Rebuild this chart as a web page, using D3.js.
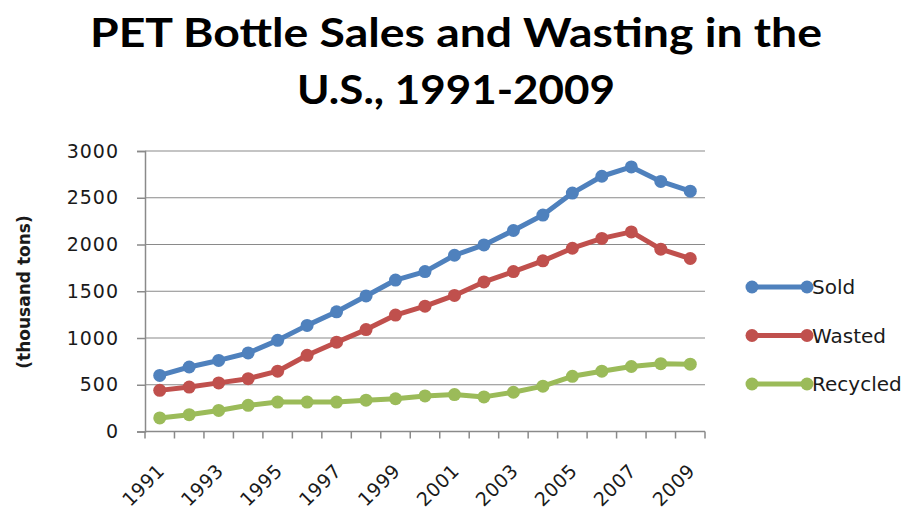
<!DOCTYPE html>
<html>
<head>
<meta charset="utf-8">
<script src="https://cdn.jsdelivr.net/npm/d3@7"></script>
<style>
  body { margin: 0; background: #fff; }
  text { font-family: "DejaVu Sans", sans-serif; fill: #1a1a1a; }
  .title { font-family: Lato, "Open Sans", sans-serif; font-weight: bold; font-size: 41px; fill: #000; }
  .tick-label { font-size: 19px; letter-spacing: 1px; }
  .x-label { font-size: 19px; letter-spacing: 0.5px; }
  .axis-title { font-size: 17px; font-weight: bold; }
  .legend-label { font-size: 20px; }
</style>
</head>
<body>
<div class="chart"></div>
<script>
// values (thousand tons)
var years = d3.range(1991, 2010).map(String);
var sold = [600, 690, 760, 840, 975, 1135, 1280, 1450, 1620, 1710, 1885, 1995, 2150, 2315, 2550, 2730, 2830, 2675, 2570];
var wasted = [440, 475, 520, 565, 645, 815, 955, 1090, 1245, 1340, 1455, 1600, 1710, 1825, 1960, 2065, 2135, 1950, 1850];
var recycled = [145, 180, 225, 280, 315, 315, 315, 335, 350, 380, 395, 370, 420, 485, 590, 645, 695, 725, 720];
var seriesNames = ["Sold", "Wasted", "Recycled"];
var seriesColors = ["#4F81BD", "#C0504D", "#9BBB59"];
var yTicks = [0, 500, 1000, 1500, 2000, 2500, 3000];
var xLabels = ["1991", "1993", "1995", "1997", "1999", "2001", "2003", "2005", "2007", "2009"];

var svgWidth = 917;
var svgHeight = 515;

var plot = { left: 145, right: 705, top: 151, bottom: 431.5 };

var svg = d3.select(".chart")
  .append("svg")
  .attr("width", svgWidth)
  .attr("height", svgHeight);

// title, two lines stretched to the reference widths
svg.append("text")
  .attr("class", "title")
  .attr("text-anchor", "middle")
  .attr("x", 456).attr("y", 47)
  .attr("textLength", 732)
  .attr("lengthAdjust", "spacingAndGlyphs")
  .text("PET Bottle Sales and Wasting in the");
svg.append("text")
  .attr("class", "title")
  .attr("text-anchor", "middle")
  .attr("x", 456).attr("y", 104)
  .attr("textLength", 318)
  .attr("lengthAdjust", "spacingAndGlyphs")
  .text("U.S., 1991-2009");

var xScale = d3.scaleBand()
  .domain(years)
  .range([plot.left, plot.right]);

var yScale = d3.scaleLinear()
  .domain([0, 3000])
  .range([plot.bottom, plot.top]);

// gridlines
svg.append("g")
  .selectAll("line")
  .data(yTicks.slice(1))
  .enter()
  .append("line")
  .attr("x1", plot.left)
  .attr("x2", plot.right)
  .attr("y1", d => yScale(d))
  .attr("y2", d => yScale(d))
  .attr("stroke", "#8a8a8a")
  .attr("stroke-width", 1.2);

// y axis
var leftAxis = d3.axisLeft(yScale)
  .tickValues(yTicks)
  .tickFormat(d3.format("d"))
  .tickSize(8)
  .tickPadding(18);
var yAxis = svg.append("g")
  .attr("transform", `translate(${plot.left}, 0)`)
  .call(leftAxis);
yAxis.select(".domain").attr("stroke", "#8a8a8a").attr("stroke-width", 1.5);
yAxis.selectAll(".tick line").attr("stroke", "#8a8a8a").attr("stroke-width", 1.5);
yAxis.selectAll(".tick text").attr("class", "tick-label").attr("font-family", null).attr("font-size", null).attr("fill", null);

// x axis line + boundary ticks
var xAxis = svg.append("g");
xAxis.append("line")
  .attr("x1", plot.left)
  .attr("x2", plot.right)
  .attr("y1", yScale(0))
  .attr("y2", yScale(0))
  .attr("stroke", "#8a8a8a")
  .attr("stroke-width", 1.5);
xAxis.selectAll(".xtick")
  .data(years.concat(["end"]))
  .enter()
  .append("line")
  .attr("class", "xtick")
  .attr("x1", d => d === "end" ? xScale.range()[1] : xScale(d))
  .attr("x2", d => d === "end" ? xScale.range()[1] : xScale(d))
  .attr("y1", yScale(0))
  .attr("y2", yScale(0) + 7)
  .attr("stroke", "#8a8a8a")
  .attr("stroke-width", 1.5);

xAxis.selectAll(".xlabel")
  .data(xLabels)
  .enter()
  .append("text")
  .attr("class", "x-label")
  .attr("text-anchor", "end")
  .attr("transform", d => `translate(${xScale(d) + xScale.bandwidth() / 2 + 6}, 472) rotate(-45)`)
  .text(d => d);

// y axis title
svg.append("text")
  .attr("class", "axis-title")
  .attr("text-anchor", "middle")
  .attr("transform", "translate(30, 292) rotate(-90)")
  .text("(thousand tons)");

// lines
var allSeries = [sold, wasted, recycled];
var line = d3.line()
  .x((d, i) => xScale(years[i]) + xScale.bandwidth() / 2)
  .y(d => yScale(d));

allSeries.forEach(function(values, k) {
  var g = svg.append("g");
  g.append("path")
    .datum(values)
    .attr("d", line)
    .attr("fill", "none")
    .attr("stroke", seriesColors[k])
    .attr("stroke-width", 5)
    .attr("stroke-linejoin", "round");
  g.selectAll("circle")
    .data(values)
    .enter()
    .append("circle")
    .attr("cx", (d, i) => xScale(years[i]) + xScale.bandwidth() / 2)
    .attr("cy", d => yScale(d))
    .attr("r", 6.5)
    .attr("fill", seriesColors[k]);
});

// legend
var legend = svg.append("g")
  .attr("transform", "translate(752, 287)");
seriesNames.forEach(function(name, k) {
  var row = legend.append("g").attr("transform", `translate(0, ${k * 48.5})`);
  row.append("line")
    .attr("x1", 0).attr("x2", 55)
    .attr("stroke", seriesColors[k])
    .attr("stroke-width", 5);
  row.selectAll("circle")
    .data([0, 55])
    .enter()
    .append("circle")
    .attr("cx", d => d)
    .attr("r", 6.5)
    .attr("fill", seriesColors[k]);
  row.append("text")
    .attr("class", "legend-label")
    .attr("x", 60)
    .attr("y", 7)
    .text(name);
});
</script>
</body>
</html>
